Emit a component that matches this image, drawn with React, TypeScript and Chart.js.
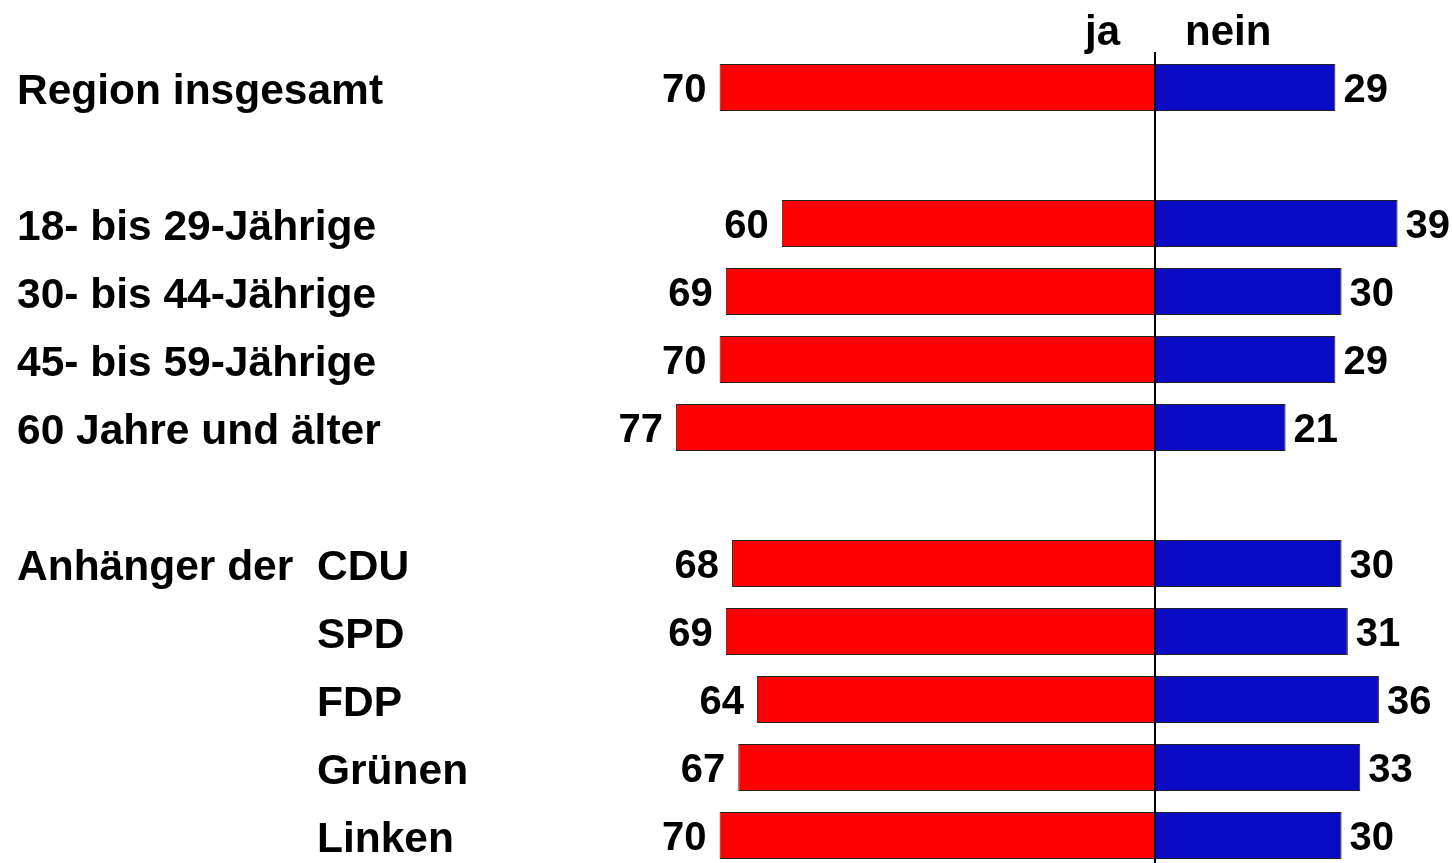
import React, { useEffect, useRef } from "react";
import { Chart, registerables } from "chart.js";

Chart.register(...registerables);

const categories: string[] = [
  "Region insgesamt",
  "",
  "18- bis 29-Jährige",
  "30- bis 44-Jährige",
  "45- bis 59-Jährige",
  "60 Jahre und älter",
  "",
  "CDU",
  "SPD",
  "FDP",
  "Grünen",
  "Linken",
];
const partyRows: number[] = [7, 8, 9, 10, 11];
const groupLabel = "Anhänger der";
const jaValues: (number | null)[] = [70, null, 60, 69, 70, 77, null, 68, 69, 64, 67, 70];
const neinValues: (number | null)[] = [29, null, 39, 30, 29, 21, null, 30, 31, 36, 33, 30];
const headerJa = "ja";
const headerNein = "nein";

const FONT = '"Liberation Sans", Arial, Helvetica, sans-serif';

export default function App() {
  const ref = useRef<HTMLCanvasElement | null>(null);

  useEffect(() => {
    const canvas = ref.current;
    if (!canvas) return;

    const labelPlugin = {
      id: "labels",
      afterDatasetsDraw(chart: any) {
        const ctx = chart.ctx;
        const xs = chart.scales.x;
        const ys = chart.scales.y;
        const x0 = xs.getPixelForValue(0);
        ctx.save();
        // center line
        ctx.strokeStyle = "#000";
        ctx.lineWidth = 2;
        ctx.beginPath();
        ctx.moveTo(x0, 52);
        ctx.lineTo(x0, chart.height);
        ctx.stroke();

        ctx.fillStyle = "#000";
        // headers
        ctx.font = `bold 42px ${FONT}`;
        ctx.textBaseline = "alphabetic";
        ctx.textAlign = "right";
        ctx.fillText(headerJa, x0 - 35, 45);
        ctx.textAlign = "left";
        ctx.fillText(headerNein, x0 + 30, 45);

        categories.forEach((cat, i) => {
          const y = ys.getPixelForValue(i);
          if (cat) {
            ctx.font = `bold 42.5px ${FONT}`;
            ctx.textAlign = "left";
            const isParty = partyRows.includes(i);
            ctx.fillText(cat, isParty ? 317 : 17, y + 16);
            if (i === partyRows[0]) ctx.fillText(groupLabel, 17, y + 16);
          }
          ctx.font = `bold 40px ${FONT}`;
          const ja = jaValues[i];
          const nein = neinValues[i];
          if (ja != null) {
            ctx.textAlign = "right";
            ctx.fillText(String(ja), xs.getPixelForValue(-ja) - 13, y + 14);
          }
          if (nein != null) {
            ctx.textAlign = "left";
            ctx.fillText(String(nein), xs.getPixelForValue(nein) + 8, y + 14);
          }
        });
        ctx.restore();
      },
    };

    const chart = new Chart(canvas, {
      type: "bar",
      data: {
        labels: categories,
        datasets: [
          {
            label: headerJa,
            data: jaValues.map((v) => (v == null ? null : -v)),
            backgroundColor: "#ff0000",
            borderColor: "#222222",
            borderWidth: 1,
            borderSkipped: false,
            barPercentage: 0.69,
            categoryPercentage: 1,
          },
          {
            label: headerNein,
            data: neinValues,
            backgroundColor: "#0b0bc6",
            borderColor: "#222222",
            borderWidth: 1,
            borderSkipped: false,
            barPercentage: 0.69,
            categoryPercentage: 1,
          },
        ],
      },
      options: {
        indexAxis: "y",
        responsive: false,
        animation: false,
        layout: { padding: { left: 533, right: 48.2, top: 53.5, bottom: 10.5 } },
        plugins: { legend: { display: false }, tooltip: { enabled: false } },
        scales: {
          x: { stacked: true, min: -100, max: 40, display: false },
          y: { stacked: true, display: false },
        },
      },
      plugins: [labelPlugin],
    });
    return () => chart.destroy();
  }, []);

  return (
    <div style={{ position: "fixed", left: 0, top: 0, width: 1452, height: 880 }}>
      <canvas ref={ref} width={1452} height={880} style={{ display: "block" }} />
    </div>
  );
}
